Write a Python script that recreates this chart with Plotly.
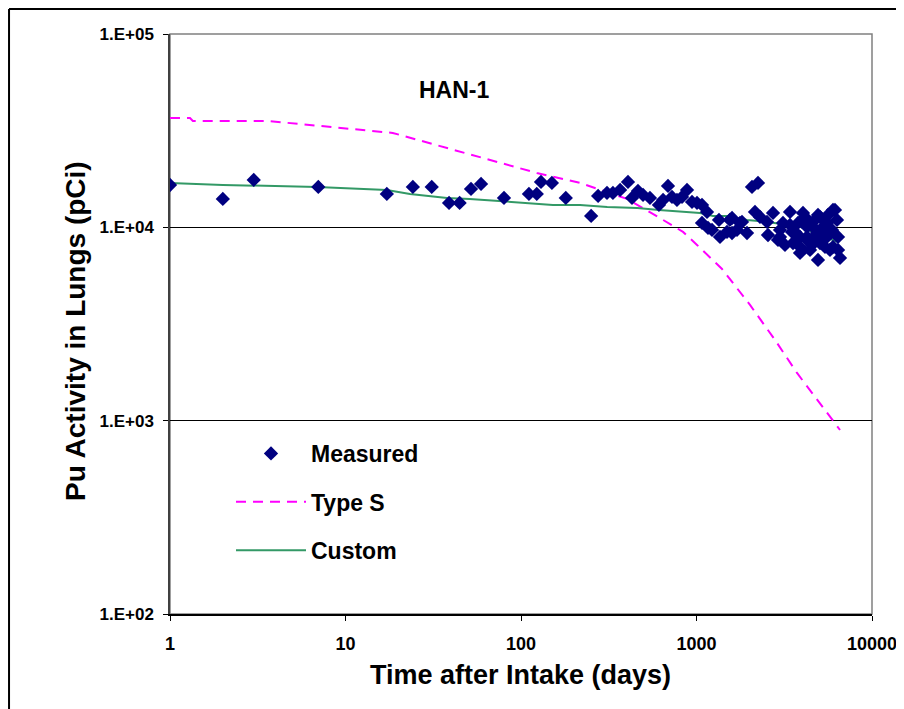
import plotly.graph_objects as go

# ---- data ----
meas_days = [1, 2.0, 3.0, 7.0, 17.2, 24.2, 31, 38.9, 44.7, 51.9, 59.2, 80, 111, 123, 130, 150, 180,
             251, 275, 309, 334, 367, 407, 429, 464, 496, 543, 611, 645, 688, 725, 774, 827, 883, 943,
             1007, 1075, 1148, 1075, 1163, 1226, 1343, 1361, 1492, 1594, 1701, 1817, 1940, 2071, 2241,
             2154, 2300, 2522, 2555, 2729, 2991, 2991, 3111, 3411, 3502, 3547, 3788, 3888, 3888, 3888,
             4044, 4262, 4262, 4434, 4610, 4860, 4924, 4924, 5054, 5054, 5398, 5398, 5540, 5540, 5763,
             5916, 5995, 5995, 6152, 6318, 6403, 6403, 6573, 1549, 1594, 1770, 2913, 4262, 4610, 3193,
             3641, 4733, 5190, 4550, 3411, 4150, 5615]
meas_pci = [16560, 14030, 17590, 16180, 14890, 16180, 16180, 13370, 13370, 15800, 16770, 14200, 14890,
            14890, 17180, 16970, 14200,
            11460, 14540, 15070, 15070, 15610, 17180, 14200, 15430, 14710, 14200, 13060, 13860, 16370,
            14370, 13860, 14370, 15610, 13540,
            13370, 13060, 12010, 10540, 9930, 9700, 10920, 8920, 9470, 11190, 9700, 10670, 9350, 16180,
            16970, 12010, 11320, 10670, 9130, 11870, 9700, 8920, 10540, 12010, 9470, 8300, 10540, 8920,
            7920, 7370, 11870, 10050, 8610, 7640, 10670, 9350, 11590, 6780, 11320, 8300, 8920, 7920,
            10540, 8920, 7640, 9700, 12300, 7920, 12300, 10920, 8920, 7640, 6950, 10920, 9350, 10540,
            8610, 8920, 10050, 8110, 9470, 8920, 9930, 8110, 10290, 11320, 11590]

types_days = [1, 1.3, 1.35, 3.6, 18.6, 58, 123, 217, 402, 645, 838, 1007, 1398, 2018, 2800, 3738,
              4864, 6573]
types_pci = [36800, 36800, 35500, 35500, 30780, 23130, 19110, 16970, 14030, 10920, 9470, 8110, 6090,
             3968, 2616, 1765, 1280, 895]

custom_days = [1, 2, 6.9, 17.2, 23.3, 37.9, 51, 112, 152, 217, 310, 460, 611, 1048, 1243, 1492, 1940,
               2555, 3888, 6403]
custom_pci = [16970, 16570, 16180, 15610, 14890, 14200, 14030, 13370, 13060, 13060, 12750, 12600,
              12300, 11870, 11460, 11460, 10920, 10670, 10050, 8400]

x_ticks = [1, 10, 100, 1000, 10000]
x_tick_text = ["1", "10", "100", "1000", "10000"]
y_ticks = [100, 1000, 10000, 100000]
y_tick_text = ["1.E+02", "1.E+03", "1.E+04", "1.E+05"]

FONT = "Arial, Liberation Sans, sans-serif"

fig = go.Figure()
fig.add_trace(go.Scatter(x=types_days, y=types_pci, mode="lines", name="Type S",
                         line=dict(color="#FF00FF", width=2, dash="10px,7px"),
                         legendgroup="b", legendrank=2))
fig.add_trace(go.Scatter(x=custom_days, y=custom_pci, mode="lines", name="Custom",
                         line=dict(color="#339966", width=2),
                         legendgroup="c", legendrank=3))
fig.add_trace(go.Scatter(x=meas_days, y=meas_pci, mode="markers", name="Measured",
                         marker=dict(symbol="diamond", size=11, color="#000080", line=dict(width=0)),
                         legendgroup="a", legendrank=1))

# outer chart border: only the left and top edges are visible in the reference
fig.add_shape(type="line", xref="paper", yref="paper", x0=-0.2293, x1=-0.2293, y0=-0.3, y1=1.0431,
              line=dict(color="black", width=2), layer="below")
fig.add_shape(type="line", xref="paper", yref="paper", x0=-0.2293, x1=1.2, y0=1.0431, y1=1.0431,
              line=dict(color="black", width=2), layer="below")
# plot-area border (top/right gray)
fig.add_shape(type="rect", xref="paper", yref="paper", x0=0, x1=1, y0=0, y1=1,
              line=dict(color="#808080", width=1.5), fillcolor="rgba(0,0,0,0)", layer="below")

fig.add_annotation(text="HAN-1", xref="paper", yref="paper", x=0.4046, y=0.929,
                   showarrow=False, font=dict(family=FONT, size=23, color="black", weight="bold"))
fig.add_annotation(text="Time after Intake (days)", xref="paper", yref="paper",
                   x=0.4986, y=-0.105, xanchor="center", yanchor="middle", showarrow=False,
                   font=dict(family=FONT, size=27, color="black", weight="bold"))
fig.add_annotation(text="Pu Activity in Lungs (pCi)", xref="paper", yref="paper",
                   x=-0.1339, y=0.488, xanchor="center", yanchor="middle", textangle=-90,
                   showarrow=False,
                   font=dict(family=FONT, size=28, color="black", weight="bold"))

fig.update_layout(
    width=896, height=701,
    margin=dict(l=162, r=32, t=26, b=95, autoexpand=False),
    paper_bgcolor="white", plot_bgcolor="white",
    font=dict(family=FONT, color="black"),
    showlegend=True,
    legend=dict(x=0.0869, y=0.3138, xanchor="left", yanchor="top",
                font=dict(family=FONT, size=23, color="black", weight="bold"),
                tracegroupgap=15.5, bgcolor="rgba(0,0,0,0)", borderwidth=0,
                itemwidth=70),
)
fig.update_xaxes(type="log", range=[0, 4], tickvals=x_ticks, ticktext=x_tick_text,
                 showgrid=False, showline=True, linecolor="black", linewidth=1.5,
                 ticks="outside", ticklen=5, tickcolor="black",
                 tickfont=dict(family=FONT, size=18, color="black", weight="bold"),
                 ticklabelstandoff=8, zeroline=False, automargin=False)
fig.update_yaxes(type="log", range=[2, 5], tickvals=y_ticks, ticktext=y_tick_text,
                 showgrid=True, gridcolor="black", gridwidth=1,
                 showline=True, linecolor="#404040", linewidth=1.5,
                 ticks="outside", ticklen=5, tickcolor="black",
                 tickfont=dict(family=FONT, size=17, color="black", weight="bold"),
                 ticklabelstandoff=6, zeroline=False, automargin=False)

fig.write_html("out.html", config={"displayModeBar": False})
